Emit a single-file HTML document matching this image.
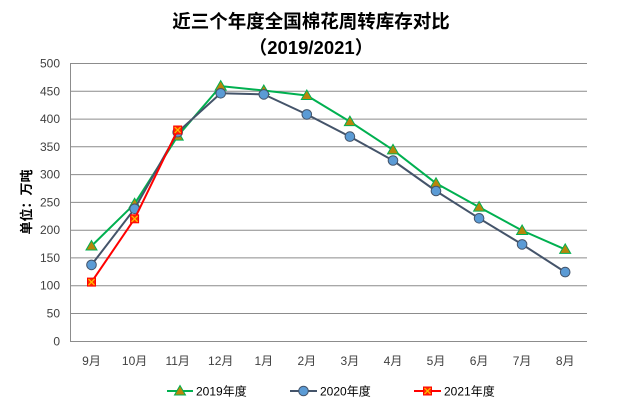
<!DOCTYPE html>
<html><head><meta charset="utf-8">
<style>
html,body{margin:0;padding:0;background:#fff;}
svg{display:block;}
text{font-family:"Liberation Sans","Noto Sans CJK SC",sans-serif;}
</style></head>
<body>
<svg width="623" height="415" viewBox="0 0 623 415" xmlns="http://www.w3.org/2000/svg">
<rect width="623" height="415" fill="#fff"/>
<!-- title -->
<text x="311" y="28" text-anchor="middle" font-size="18.5" font-weight="bold" fill="#000">近三个年度全国棉花周转库存对比</text>
<text x="311" y="54" text-anchor="middle" font-size="18.5" font-weight="bold" fill="#000">（2019/2021）</text>
<!-- gridlines -->
<g stroke="#8c8c8c" stroke-width="1">
<line x1="70" y1="63.5" x2="587" y2="63.5"/>
<line x1="70" y1="91.3" x2="587" y2="91.3"/>
<line x1="70" y1="119.1" x2="587" y2="119.1"/>
<line x1="70" y1="146.8" x2="587" y2="146.8"/>
<line x1="70" y1="174.6" x2="587" y2="174.6"/>
<line x1="70" y1="202.4" x2="587" y2="202.4"/>
<line x1="70" y1="230.2" x2="587" y2="230.2"/>
<line x1="70" y1="257.9" x2="587" y2="257.9"/>
<line x1="70" y1="285.7" x2="587" y2="285.7"/>
<line x1="70" y1="313.5" x2="587" y2="313.5"/>
<line x1="70" y1="341.5" x2="587" y2="341.5"/>
<line x1="70.5" y1="63.5" x2="70.5" y2="341.5"/>
</g>
<!-- y labels -->
<g font-size="12" fill="#404040" text-anchor="end">
<text x="60" y="67.5">500</text>
<text x="60" y="95.3">450</text>
<text x="60" y="123.1">400</text>
<text x="60" y="150.8">350</text>
<text x="60" y="178.6">300</text>
<text x="60" y="206.4">250</text>
<text x="60" y="234.2">200</text>
<text x="60" y="261.9">150</text>
<text x="60" y="289.7">100</text>
<text x="60" y="317.5">50</text>
<text x="60" y="345.3">0</text>
</g>
<text transform="translate(31,202) rotate(-90)" text-anchor="middle" font-size="13" font-weight="bold" fill="#000">单位：万吨</text>
<!-- x labels -->
<g font-size="12" fill="#404040" text-anchor="middle">
<text x="91.5" y="365">9月</text>
<text x="134.6" y="365">10月</text>
<text x="177.7" y="365">11月</text>
<text x="220.7" y="365">12月</text>
<text x="263.8" y="365">1月</text>
<text x="306.8" y="365">2月</text>
<text x="349.9" y="365">3月</text>
<text x="393.0" y="365">4月</text>
<text x="436.0" y="365">5月</text>
<text x="479.1" y="365">6月</text>
<text x="522.1" y="365">7月</text>
<text x="565.2" y="365">8月</text>
</g>
<defs>
<g id="tri"><polygon points="0,-5.5 -5.5,4 5.5,4" fill="#b8860b" stroke="#00b050" stroke-width="1"/></g>
<g id="cir"><circle r="4.8" fill="#5b9bd5" stroke="#44546a" stroke-width="1"/></g>
<g id="sq"><rect x="-4" y="-4" width="8" height="8" fill="#ff2a00" stroke="#ff0000" stroke-width="1"/><path d="M-3,-3L3,3M3,-3L-3,3" stroke="#ffc000" stroke-width="1.2"/></g>
</defs>
<!-- 2019 -->
<polyline fill="none" stroke="#00b050" stroke-width="2" stroke-linejoin="round" points="91.5,246.0 134.6,203.8 177.7,136.1 220.7,86.1 263.8,90.5 306.8,95.5 349.9,121.6 393.0,149.9 436.0,183.3 479.1,207.1 522.1,230.5 565.2,249.4"/>
<use href="#tri" x="91.5" y="246.0"/><use href="#tri" x="134.6" y="203.8"/><use href="#tri" x="177.7" y="136.1"/><use href="#tri" x="220.7" y="86.1"/><use href="#tri" x="263.8" y="90.5"/><use href="#tri" x="306.8" y="95.5"/><use href="#tri" x="349.9" y="121.6"/><use href="#tri" x="393.0" y="149.9"/><use href="#tri" x="436.0" y="183.3"/><use href="#tri" x="479.1" y="207.1"/><use href="#tri" x="522.1" y="230.5"/><use href="#tri" x="565.2" y="249.4"/>
<!-- 2020 -->
<polyline fill="none" stroke="#44546a" stroke-width="2" stroke-linejoin="round" points="91.5,264.9 134.6,208.8 177.7,132.2 220.7,93.3 263.8,94.4 306.8,114.4 349.9,136.6 393.0,160.5 436.0,191.0 479.1,218.3 522.1,244.4 565.2,272.1"/>
<use href="#cir" x="91.5" y="264.9"/><use href="#cir" x="134.6" y="208.8"/><use href="#cir" x="177.7" y="132.2"/><use href="#cir" x="220.7" y="93.3"/><use href="#cir" x="263.8" y="94.4"/><use href="#cir" x="306.8" y="114.4"/><use href="#cir" x="349.9" y="136.6"/><use href="#cir" x="393.0" y="160.5"/><use href="#cir" x="436.0" y="191.0"/><use href="#cir" x="479.1" y="218.3"/><use href="#cir" x="522.1" y="244.4"/><use href="#cir" x="565.2" y="272.1"/>
<!-- 2021 -->
<polyline fill="none" stroke="#ff0000" stroke-width="2" stroke-linejoin="round" points="91.5,282.1 134.6,218.8 177.7,130.0"/>
<use href="#sq" x="91.5" y="282.1"/><use href="#sq" x="134.6" y="218.8"/><use href="#sq" x="177.7" y="130.0"/>
<!-- legend -->
<line x1="167" y1="391" x2="193" y2="391" stroke="#00b050" stroke-width="2"/>
<use href="#tri" x="180" y="391"/>
<text x="196" y="395.5" font-size="12" fill="#000">2019年度</text>
<line x1="290" y1="391" x2="317" y2="391" stroke="#44546a" stroke-width="2"/>
<use href="#cir" x="303.5" y="391"/>
<text x="320" y="395.5" font-size="12" fill="#000">2020年度</text>
<line x1="414" y1="391" x2="441" y2="391" stroke="#ff0000" stroke-width="2"/>
<use href="#sq" x="427.5" y="391"/>
<text x="444" y="395.5" font-size="12" fill="#000">2021年度</text>
</svg>
</body></html>
